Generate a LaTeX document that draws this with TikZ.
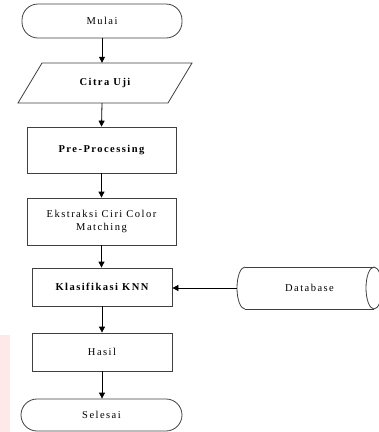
\documentclass[tikz,border=0pt]{standalone}
\usepackage{fontspec}
\setmainfont{Liberation Serif}[LetterSpace=14]
\usetikzlibrary{arrows.meta,shapes.geometric,calc}
\begin{document}
\begin{tikzpicture}[x=1pt,y=-1pt,
  line/.style={draw=black!75, line width=0.8pt},
  box/.style={line, rectangle, inner sep=0pt, align=center,
    font=\fontsize{10.5}{12.5}\selectfont, text=black},
  term/.style={box, rounded corners=16pt},
  plain/.style={inner sep=0pt, align=center, font=\fontsize{10.5}{12.5}\selectfont, text=black},
  arr/.style={-{Triangle[length=6pt,width=6pt]}, line width=0.8pt, black}]
\useasboundingbox (0,0) rectangle (379,432);
\clip (0,0) rectangle (379,432);
\fill[red!9] (0,335) rectangle (10,432);
% nodes
\node[term, minimum width=160pt, minimum height=34pt] (mulai) at (102,21) {Mulai};
\node[plain, minimum width=150pt, minimum height=40pt] (citra) at (105,83) {\bfseries Citra Uji};
\draw[line] (42,63) -- (192,63) -- (168,103) -- (18,103) -- cycle;
\node[box, minimum width=149pt, minimum height=46pt] (pre) at (101.5,150) {\bfseries Pre-Processing};
\node[box, minimum width=149pt, minimum height=47pt] (ekstr) at (101.5,221.5) {Ekstraksi Ciri Color\\Matching};
\node[box, minimum width=140pt, minimum height=38pt] (klas) at (102,287) {\bfseries Klasifikasi KNN};
\node[box, minimum width=140pt, minimum height=38pt] (hasil) at (102,352) {Hasil};
\node[term, minimum width=161pt, minimum height=32pt] (selesai) at (101.5,415) {Selesai};
% database drum
\node[plain, minimum width=145pt, minimum height=42pt] (db) at (309.5,288) {Database};
\draw[line] (245,267) -- (374,267);
\draw[line] (245,309) -- (374,309);
\draw[line] (245,267) arc[start angle=270, end angle=90, x radius=8, y radius=21];
\draw[line] (374,288) ellipse[x radius=8, y radius=21];
% connectors
\draw[arr] (mulai.south) -- (mulai.south |- citra.north);
\draw[arr] (citra.south -| mulai.south) -- (pre.north);
\draw[arr] (pre.south) -- (ekstr.north);
\draw[arr] (ekstr.south) -- (ekstr.south |- klas.north);
\draw[arr] (klas.south) -- (hasil.north);
\draw[arr] (hasil.south) -- (hasil.south |- selesai.north);
\draw[arr] (db.west) -- (db.west -| klas.east);
\end{tikzpicture}
\end{document}
